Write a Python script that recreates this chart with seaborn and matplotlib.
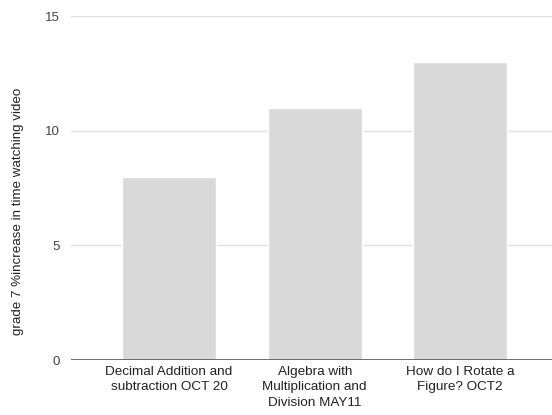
import matplotlib
matplotlib.use("Agg")
import matplotlib.pyplot as plt
import seaborn as sns
import pandas as pd

categories = [
    "Decimal Addition and\nsubtraction OCT 20",
    "Algebra with\nMultiplication and\nDivision MAY11",
    "How do I Rotate a\nFigure? OCT2",
]
values = [8, 11, 13]
y_ticks = [0, 5, 10, 15]
y_label = "grade 7 %increase in time watching video"

sns.set_theme(style="white")
plt.rcParams["font.family"] = ["Liberation Sans", "DejaVu Sans"]

df = pd.DataFrame({"video": categories, "increase": values})

fig = plt.figure(figsize=(5.52, 4.15), dpi=100)
ax = fig.add_axes([0.1286, 0.1325, 0.8714, 0.8289])

sns.barplot(data=df, x="video", y="increase", color="#d9d9d9",
            saturation=1, width=0.646, ax=ax, zorder=2)

ax.set_ylim(0, 15)
ax.set_xlim(-0.674, 2.63)
ax.set_yticks(y_ticks)
ax.set_yticklabels([str(t) for t in y_ticks], fontsize=9.6, color="#444444")
ax.tick_params(axis="x", labelsize=9.7, length=0, pad=4)
ax.tick_params(axis="y", length=0, pad=8)
for lbl in ax.get_xticklabels():
    lbl.set_color("#222222")
    lbl.set_linespacing(1.4)

for t in y_ticks[1:]:
    ax.axhline(t, color="#e0e0e0", linewidth=1, zorder=1)
ax.axhline(0, color="#555555", linewidth=1.2, zorder=3)

for s in ax.spines.values():
    s.set_visible(False)

ax.set_xlabel("")
ax.set_ylabel(y_label, fontsize=9.6, color="#222222")
ax.yaxis.set_label_coords(-0.097, 0.433)

fig.savefig("out.png", dpi=100)
